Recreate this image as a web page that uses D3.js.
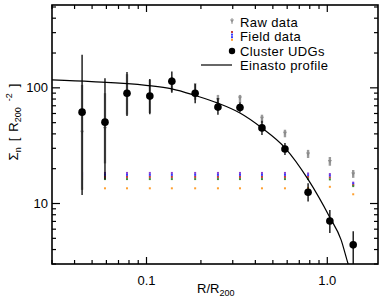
<!DOCTYPE html>
<html>
<head>
<meta charset="utf-8">
<script src="https://cdn.jsdelivr.net/npm/d3@7"></script>
<style>
  body { margin: 0; background: #fff; }
  text { font-family: "Liberation Sans", Arial, sans-serif; fill: #000; }
</style>
</head>
<body>
<div id="chart"></div>
<script>
// radial bins (R/R200)
const radius = [0.0443, 0.0593, 0.0785, 0.105, 0.139, 0.187, 0.25, 0.331, 0.438, 0.587, 0.788, 1.04, 1.40];

// cluster UDGs
const cluster   = [61, 50, 89, 84, 113, 89, 67.5, 67, 44.6, 29.3, 12.4, 7.0, 4.35];
const clusterLo = [11.7, 16, 56.6, 58.5, 90, 73, 58, 61, 38.8, 26, 10.3, 5.5, 2.9];
const clusterHi = [191, 120, 136, 118, 137, 107, 81, 74, 51.3, 33, 14.8, 8.7, 5.7];

// raw data
const raw   = [41, 44, 88, 85, 112, 92, 78, 81, 54, 40, 26.5, 22.8, 17.8];
const rawLo = [13, 22, 58, 60, 92, 78, 70, 73, 49, 37, 24.5, 21, 16.5];
const rawHi = [105, 89, 130, 116, 123, 109, 86, 86, 58, 43, 28.8, 25, 19.3];

// field data (several background estimates)
const fieldPurple = [18.2, 18.2, 18.2, 18.2, 18.2, 18.2, 18.2, 18.2, 18.2, 18.2, 18.0, 17.8, 15.0];
const fieldBlue   = [17.5, 17.5, 17.5, 17.5, 17.5, 17.5, 17.5, 17.5, 17.5, 17.5, 17.4, 17.2, 14.7];
const fieldRed    = [16.8, 16.8, 16.8, 16.8, 16.8, 16.8, 16.8, 16.8, 16.8, 16.8, 16.8, 16.6, 14.3];
const fieldGreen  = [16.1, 16.1, 16.1, 16.1, 16.1, 16.1, 16.1, 16.1, 16.1, 16.1, 16.1, 16.0, 14.0];
const fieldOrange = [13.4, 13.4, 13.4, 13.4, 13.4, 13.4, 13.4, 13.4, 13.4, 13.4, 13.5, 13.8, 11.9];
const fieldSeries = [
  {values: fieldPurple, color: "#8a3fd0"},
  {values: fieldBlue,   color: "#3a3aff"},
  {values: fieldRed,    color: "#c04040"},
  {values: fieldGreen,  color: "#3c8a3c"},
  {values: fieldOrange, color: "#ffa030"}
];

// Einasto profile
const einastoR = [0.03, 0.05, 0.1, 0.139, 0.187, 0.25, 0.331, 0.438, 0.587, 0.788, 1.04, 1.2, 1.31, 1.36];
const einastoV = [116, 112, 104, 97, 85, 73, 60, 44.5, 30, 16, 7.5, 4.8, 3.0, 2.5];

const xMajor = [0.1, 1.0];
const xMinor = [0.03, 0.04, 0.05, 0.06, 0.07, 0.08, 0.09, 0.2, 0.3, 0.4, 0.5, 0.6, 0.7, 0.8, 0.9];
const yMajor = [10, 100];
const yMinor = [3, 4, 5, 6, 7, 8, 9, 20, 30, 40, 50, 60, 70, 80, 90, 200, 300, 400, 500];

const margin = {top: 5, right: 4, bottom: 36, left: 52};
const W = 382, H = 300;
const width = W - margin.left - margin.right;
const height = H - margin.top - margin.bottom;

const svg = d3.select("#chart").append("svg")
    .attr("width", W).attr("height", H);
const g = svg.append("g").attr("transform", `translate(${margin.left},${margin.top})`);

const x = d3.scaleLog().domain([0.0302, 1.92]).range([0, width]);
const y = d3.scaleLog().domain([2.97, 515]).range([height, 0]);

g.append("clipPath").attr("id", "clip")
  .append("rect").attr("width", width).attr("height", height);

// axes with inward ticks, mirrored on top/right
function styleAxis(sel) {
  sel.select(".domain").remove();
  sel.selectAll("line").attr("stroke", "#000").attr("stroke-width", 1.2);
  sel.selectAll("text").attr("font-size", 13);
}
g.append("g").attr("transform", `translate(0,${height})`)
  .call(d3.axisBottom(x).tickValues(xMajor).tickSize(-7).tickPadding(12).tickFormat(d3.format(".1f")))
  .call(styleAxis);
g.append("g").attr("transform", `translate(0,${height})`)
  .call(d3.axisBottom(x).tickValues(xMinor).tickSize(-4).tickFormat(""))
  .call(styleAxis);
g.append("g")
  .call(d3.axisTop(x).tickValues(xMajor).tickSize(-7).tickFormat(""))
  .call(styleAxis);
g.append("g")
  .call(d3.axisTop(x).tickValues(xMinor).tickSize(-4).tickFormat(""))
  .call(styleAxis);
g.append("g")
  .call(d3.axisLeft(y).tickValues(yMajor).tickSize(-8).tickPadding(4).tickFormat(d3.format("d")))
  .call(styleAxis)
  .selectAll("text").attr("x", -4);
g.append("g")
  .call(d3.axisLeft(y).tickValues(yMinor).tickSize(-4).tickFormat(""))
  .call(styleAxis);
g.append("g").attr("transform", `translate(${width},0)`)
  .call(d3.axisRight(y).tickValues(yMajor).tickSize(-8).tickFormat(""))
  .call(styleAxis);
g.append("g").attr("transform", `translate(${width},0)`)
  .call(d3.axisRight(y).tickValues(yMinor).tickSize(-4).tickFormat(""))
  .call(styleAxis);

g.append("rect").attr("width", width).attr("height", height)
  .attr("fill", "none").attr("stroke", "#000").attr("stroke-width", 1.6);

const plot = g.append("g").attr("clip-path", "url(#clip)");

// field data dots
fieldSeries.forEach(s => {
  plot.selectAll(null).data(radius).join("rect")
    .attr("x", (d, i) => x(d) - 1)
    .attr("y", (d, i) => y(s.values[i]) - 1)
    .attr("width", 2).attr("height", 2)
    .attr("fill", s.color);
});

// raw data error bars + markers
plot.selectAll(".rawbar").data(radius).join("line")
  .attr("x1", d => x(d)).attr("x2", d => x(d))
  .attr("y1", (d, i) => y(rawLo[i])).attr("y2", (d, i) => y(rawHi[i]))
  .attr("stroke", "#9a9a9a").attr("stroke-width", 2.4);
plot.selectAll(".rawpt").data(radius).join("path")
  .attr("d", (d, i) => {
    const cx = x(d), cy = y(raw[i]);
    return `M${cx - 2},${cy - 1.5}L${cx + 2},${cy - 1.5}L${cx},${cy + 2}Z`;
  })
  .attr("fill", "#8a8a8a");

// Einasto profile
plot.append("path")
  .datum(einastoR.map((r, i) => [r, einastoV[i]]))
  .attr("d", d3.line().x(d => x(d[0])).y(d => y(d[1])).curve(d3.curveMonotoneX))
  .attr("fill", "none").attr("stroke", "#000").attr("stroke-width", 1.2);

// cluster UDGs
plot.selectAll(".clbar").data(radius).join("line")
  .attr("x1", d => x(d)).attr("x2", d => x(d))
  .attr("y1", (d, i) => y(clusterLo[i])).attr("y2", (d, i) => y(clusterHi[i]))
  .attr("stroke", "#000").attr("stroke-width", 1.3);
plot.selectAll(".clpt").data(radius).join("circle")
  .attr("cx", d => x(d)).attr("cy", (d, i) => y(cluster[i]))
  .attr("r", 3.8).attr("fill", "#000");

// legend
const lg = svg.append("g");
const lx = 232, tx = 240;
lg.append("path")
  .attr("d", `M${lx - 2},${19.5}L${lx + 2},${19.5}L${lx},${23}Z`).attr("fill", "#8a8a8a");
lg.append("line").attr("x1", lx).attr("x2", lx).attr("y1", 18).attr("y2", 24)
  .attr("stroke", "#9a9a9a").attr("stroke-width", 1);
["#c04040", "#3a3aff", "#3a3aff", "#ffa030"].forEach((c, i) => {
  lg.append("rect").attr("x", lx - 1).attr("y", 31 + i * 2.6).attr("width", 2).attr("height", 2).attr("fill", c);
});
lg.append("circle").attr("cx", lx).attr("cy", 51).attr("r", 3.2).attr("fill", "#000");
lg.append("line").attr("x1", 201).attr("x2", lx).attr("y1", 65).attr("y2", 65)
  .attr("stroke", "#000").attr("stroke-width", 1.2);
const legendLabels = ["Raw data", "Field data", "Cluster UDGs", "Einasto profile"];
lg.selectAll("text").data(legendLabels).join("text")
  .attr("x", tx).attr("y", (d, i) => 27 + i * 14.3)
  .attr("font-size", 13).attr("letter-spacing", 0.4)
  .text(d => d);

// axis titles
const xt = svg.append("text").attr("x", 197).attr("y", 293).attr("font-size", 13);
xt.append("tspan").text("R/R");
xt.append("tspan").attr("font-size", 9).attr("dy", 3).text("200");

const yt = svg.append("text")
  .attr("transform", "translate(18,122) rotate(-90)")
  .attr("text-anchor", "middle").attr("font-size", 13);
yt.append("tspan").text("Σ");
yt.append("tspan").attr("font-size", 9).attr("dy", 3).text("n");
yt.append("tspan").attr("dy", -3).attr("dx", 6).text("[");
yt.append("tspan").attr("dx", 6).text("R");
yt.append("tspan").attr("font-size", 9).attr("dy", 3).text("200");
yt.append("tspan").attr("font-size", 9).attr("dy", -9).attr("dx", 6).text("-2");
yt.append("tspan").attr("dy", 6).attr("dx", 6).text("]");
</script>
</body>
</html>
